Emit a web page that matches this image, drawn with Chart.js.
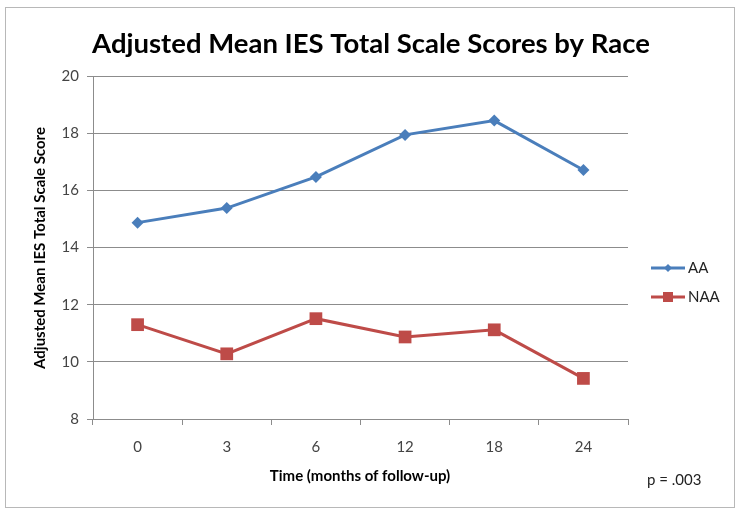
<!DOCTYPE html>
<html>
  <head>
    <title>Adjusted Mean IES Total Scale Scores by Race</title>
    <script src="https://cdn.jsdelivr.net/npm/chart.js"></script>
    <style>
      body {
        margin: 0;
        background: #ffffff;
      }
      .frame {
        position: absolute;
        left: 5px;
        top: 7px;
        width: 728px;
        height: 499px;
        border: 1px solid #b8b8b8;
      }
      .chart-box {
        position: absolute;
        left: 0;
        top: 0;
        width: 741px;
        height: 515px;
      }
    </style>
  </head>
  <body>
    <div class="frame"></div>
    <div class="chart-box">
      <canvas id="myChart" width="741" height="515"></canvas>
    </div>

    <script>
      // values
      const months = ["0", "3", "6", "12", "18", "24"];
      const aaScores = [14.87, 15.38, 16.47, 17.94, 18.44, 16.71];
      const naaScores = [11.3, 10.28, 11.51, 10.87, 11.12, 9.42];
      const yTicks = [8, 10, 12, 14, 16, 18, 20];

      const blue = "#4a7ebb";
      const red = "#be4b48";
      const font = "Lato, 'Open Sans', sans-serif";

      // titles, p value and legend are drawn by hand
      const extras = {
        id: "extras",
        afterDraw(chart) {
          const ctx = chart.ctx;
          ctx.save();
          ctx.fillStyle = "#000";
          ctx.textAlign = "center";
          ctx.textBaseline = "middle";
          ctx.font = "bold 27.5px " + font;
          ctx.fillText("Adjusted Mean IES Total Scale Scores by Race", 371, 44);

          ctx.font = "bold 15px " + font;
          ctx.fillText("Time (months of follow-up)", 360, 476);

          ctx.save();
          ctx.translate(40, 248);
          ctx.rotate(-Math.PI / 2);
          ctx.fillText("Adjusted Mean IES Total Scale Score", 0, 0);
          ctx.restore();

          ctx.font = "15px " + font;
          ctx.fillStyle = "#222";
          ctx.textAlign = "left";
          ctx.fillText("p = .003", 647, 480);

          // legend
          const rows = [
            { label: "AA", color: blue, y: 268, shape: "diamond" },
            { label: "NAA", color: red, y: 297, shape: "square" },
          ];
          rows.forEach((r) => {
            ctx.strokeStyle = r.color;
            ctx.lineWidth = 3;
            ctx.beginPath();
            ctx.moveTo(651, r.y);
            ctx.lineTo(685, r.y);
            ctx.stroke();
            ctx.fillStyle = r.color;
            ctx.beginPath();
            if (r.shape === "diamond") {
              ctx.moveTo(668, r.y - 4);
              ctx.lineTo(672, r.y);
              ctx.lineTo(668, r.y + 4);
              ctx.lineTo(664, r.y);
            } else {
              ctx.rect(663, r.y - 5, 10, 10);
            }
            ctx.fill();
            ctx.fillStyle = "#222";
            ctx.fillText(r.label, 688, r.y);
          });
          ctx.restore();
        },
      };

      const ctx = document.getElementById("myChart").getContext("2d");
      new Chart(ctx, {
        type: "line",
        data: {
          labels: months,
          datasets: [
            {
              label: "AA",
              data: aaScores,
              borderColor: blue,
              backgroundColor: blue,
              borderWidth: 3,
              pointStyle: "rectRot",
              pointRadius: 6,
              pointBorderWidth: 0,
              tension: 0,
            },
            {
              label: "NAA",
              data: naaScores,
              borderColor: red,
              backgroundColor: red,
              borderWidth: 3,
              pointStyle: "rect",
              pointRadius: 9,
              pointBorderWidth: 0,
              tension: 0,
            },
          ],
        },
        options: {
          responsive: false,
          animation: false,
          layout: {
            padding: { left: 0, right: 113, top: 76, bottom: 0 },
          },
          plugins: {
            legend: { display: false },
            title: { display: false },
            tooltip: { enabled: false },
          },
          scales: {
            x: {
              offset: true,
              afterFit(scale) {
                scale.height = 96;
              },
              grid: {
                offset: true,
                drawOnChartArea: false,
                drawTicks: true,
                tickLength: 6,
                color: "#8c8c8c",
              },
              border: { color: "#8c8c8c" },
              ticks: {
                padding: 13,
                color: "#444",
                font: { family: font, size: 15 },
              },
            },
            y: {
              min: 8,
              max: 20,
              afterFit(scale) {
                scale.width = 93;
              },
              afterBuildTicks(scale) {
                scale.ticks = yTicks.map((v) => ({ value: v }));
              },
              grid: {
                color: "#8c8c8c",
                tickLength: 6,
              },
              border: { color: "#8c8c8c" },
              ticks: {
                padding: 8,
                color: "#444",
                font: { family: font, size: 15 },
              },
            },
          },
        },
        plugins: [extras],
      });
    </script>
  </body>
</html>
